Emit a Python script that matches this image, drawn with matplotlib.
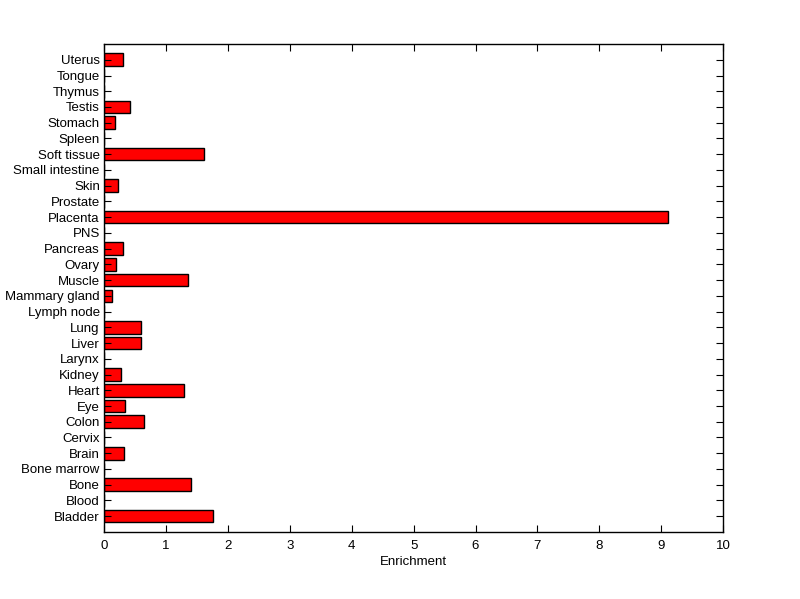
import matplotlib
matplotlib.use('Agg')
import matplotlib.pyplot as plt
import numpy as np

plt.rcParams['font.family'] = ['Liberation Sans', 'DejaVu Sans']

# tissues from bottom to top
tissues = ['Bladder', 'Blood', 'Bone', 'Bone marrow', 'Brain', 'Cervix', 'Colon',
           'Eye', 'Heart', 'Kidney', 'Larynx', 'Liver', 'Lung', 'Lymph node',
           'Mammary gland', 'Muscle', 'Ovary', 'Pancreas', 'PNS', 'Placenta',
           'Prostate', 'Skin', 'Small intestine', 'Soft tissue', 'Spleen',
           'Stomach', 'Testis', 'Thymus', 'Tongue', 'Uterus']
enrichment = [1.76, 0, 1.40, 0, 0.32, 0, 0.64,
              0.34, 1.29, 0.28, 0, 0.59, 0.60, 0,
              0.13, 1.35, 0.20, 0.30, 0, 9.11,
              0, 0.23, 0, 1.62, 0,
              0.17, 0.42, 0, 0, 0.31]
xticks = list(range(0, 11))

fig = plt.figure(figsize=(8, 5.99), dpi=100)
ax = fig.add_axes([0.13, 0.112, 0.774, 0.8145])

ypos = np.arange(1, len(tissues) + 1)
ax.barh(ypos, enrichment, height=0.8, color='#ff0000', edgecolor='black', linewidth=1)

ax.set_xlim(0, 10)
ax.set_ylim(0, len(tissues) + 1)
ax.set_xticks(xticks)
ax.set_yticks(ypos)
ax.set_yticklabels(tissues)
ax.tick_params(direction='in', top=True, right=True, length=5, labelsize=9.5)
ax.tick_params(axis='x', pad=6)
ax.tick_params(axis='y', pad=3)
for s in ax.spines.values():
    s.set_linewidth(1)
ax.set_xlabel('Enrichment', fontsize=9.5, labelpad=3)

fig.savefig('out.png', dpi=100)
